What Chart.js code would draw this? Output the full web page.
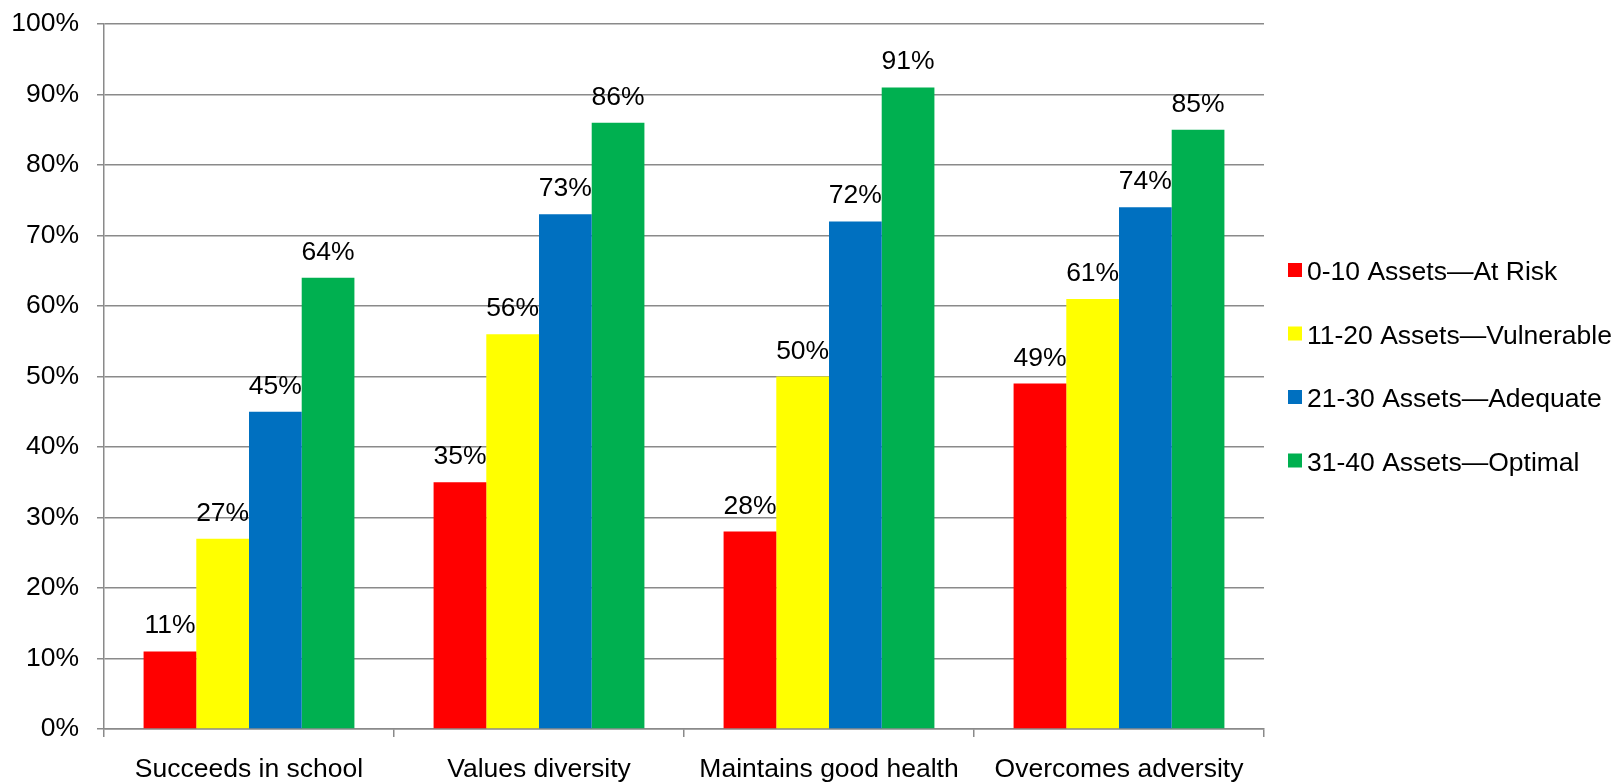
<!DOCTYPE html>
<html>
<head>
<meta charset="utf-8">
<script src="https://cdn.jsdelivr.net/npm/chart.js@4/dist/chart.umd.min.js"></script>
<style>
html,body{margin:0;padding:0;background:#fff;}
#wrap{width:1619px;height:783px;}
</style>
</head>
<body>
<div id="wrap"><canvas id="c" width="1619" height="783"></canvas></div>
<script>
const categories = ['Succeeds in school', 'Values diversity', 'Maintains good health', 'Overcomes adversity'];
const seriesNames = ['0-10 Assets\u2014At Risk', '11-20 Assets\u2014Vulnerable', '21-30 Assets\u2014Adequate', '31-40 Assets\u2014Optimal'];
const atRisk = [11, 35, 28, 49];
const vulnerable = [27, 56, 50, 61];
const adequate = [45, 73, 72, 74];
const optimal = [64, 86, 91, 85];
const yTicks = [0, 10, 20, 30, 40, 50, 60, 70, 80, 90, 100];

const colors = ['#FF0000', '#FFFF00', '#0070C0', '#00B050'];
const FONT = '"Liberation Sans", Arial, sans-serif';
const FS = 26.5;
const GRID = '#8a8a8a';

const valueLabels = {
  id: 'valueLabels',
  afterDatasetsDraw(chart) {
    const ctx = chart.ctx;
    ctx.save();
    ctx.font = FS + 'px ' + FONT;
    ctx.fillStyle = '#000';
    ctx.textAlign = 'center';
    ctx.textBaseline = 'alphabetic';
    chart.data.datasets.forEach((ds, i) => {
      const meta = chart.getDatasetMeta(i);
      meta.data.forEach((bar, j) => {
        ctx.fillText(ds.data[j] + '%', bar.x, bar.y - 18);
      });
    });
    ctx.restore();
  }
};

const sideLegend = {
  id: 'sideLegend',
  afterDraw(chart) {
    const ctx = chart.ctx;
    ctx.save();
    ctx.font = FS + 'px ' + FONT;
    ctx.textBaseline = 'alphabetic';
    ctx.textAlign = 'left';
    const base0 = 280, step = 63.5, bx = 1288, tx = 1307, sz = 14;
    chart.data.datasets.forEach((ds, i) => {
      const b = base0 + i * step;
      ctx.fillStyle = ds.backgroundColor;
      ctx.fillRect(bx, b - 17, sz, sz);
      ctx.fillStyle = '#000';
      ctx.fillText(ds.label, tx, b);
    });
    ctx.restore();
  }
};

new Chart(document.getElementById('c'), {
  type: 'bar',
  data: {
    labels: categories,
    datasets: [
      { label: seriesNames[0], data: atRisk, backgroundColor: colors[0] },
      { label: seriesNames[1], data: vulnerable, backgroundColor: colors[1] },
      { label: seriesNames[2], data: adequate, backgroundColor: colors[2] },
      { label: seriesNames[3], data: optimal, backgroundColor: colors[3] }
    ]
  },
  options: {
    responsive: false,
    animation: false,
    devicePixelRatio: 1,
    layout: { padding: { left: 0, right: 355, top: 24, bottom: 0 } },
    datasets: { bar: { categoryPercentage: 0.727, barPercentage: 1.0, borderWidth: 0 } },
    plugins: { legend: { display: false }, tooltip: { enabled: false } },
    scales: {
      x: {
        offset: true,
        grid: { offset: true, drawOnChartArea: false, drawTicks: true, tickLength: 8, color: GRID, lineWidth: 1.5 },
        border: { display: true, color: GRID, width: 1.5 },
        ticks: { color: '#000', font: { family: FONT, size: FS }, padding: 17, maxRotation: 0, autoSkip: false },
        afterFit(scale) { scale.height = 54; scale.paddingLeft = 0; scale.paddingRight = 0; }
      },
      y: {
        min: 0,
        max: 100,
        afterBuildTicks(scale) { scale.ticks = yTicks.map(v => ({ value: v })); },
        grid: { color: GRID, lineWidth: 1.5, drawTicks: true, tickLength: 7 },
        border: { display: true, color: GRID, width: 1.5 },
        ticks: { color: '#000', font: { family: FONT, size: FS }, padding: 18, callback: v => v + '%' },
        afterFit(scale) { scale.width = 104; scale.paddingTop = 0; scale.paddingBottom = 0; }
      }
    }
  },
  plugins: [valueLabels, sideLegend]
});
</script>
</body>
</html>
